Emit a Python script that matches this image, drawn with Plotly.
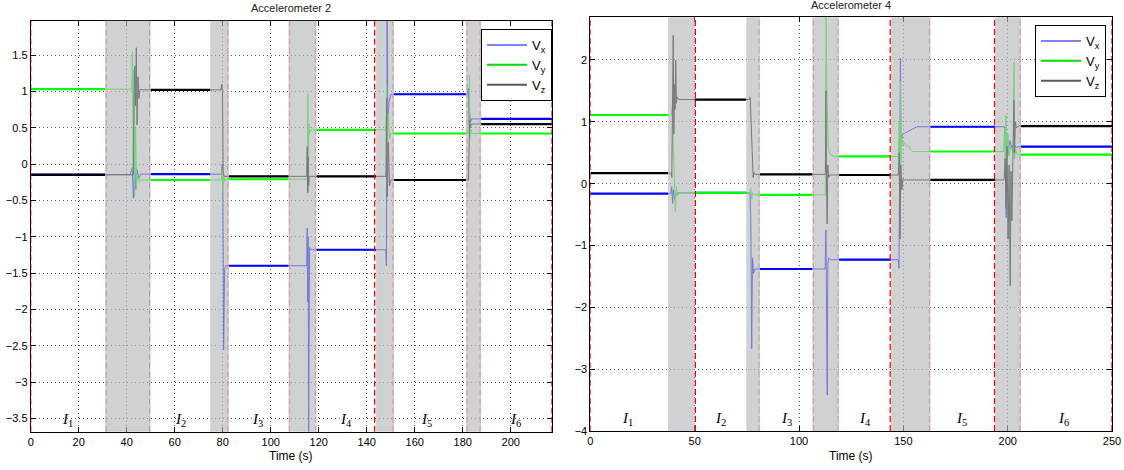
import plotly.graph_objects as go

# ---------------- Accelerometer 2 (left) ----------------
A2_SHADE_START = [31.0, 74.8, 107.4, 143.9, 181.3]
A2_SHADE_END = [50.0, 82.6, 119.1, 151.4, 187.7]
A2_XMAX = 217.2
# red dashed interval borders (those inside a shaded band are seen through it)
A2_DASH_X = [0.0, 31.5, 49.5, 82.1, 107.9, 118.6, 143.3, 150.9, 181.8, 187.2, 217.2]

# steady level of each series in intervals I1..I6
A2_VX_LEVEL = [-0.145, -0.14, -1.40, -1.18, 0.96, 0.62]
A2_VY_LEVEL = [1.03, -0.22, -0.21, 0.47, 0.42, 0.42]
A2_VZ_LEVEL = [-0.15, 1.02, -0.17, -0.17, -0.22, 0.55]

# transient samples inside each shaded switch period
A2_VX_T = [[41.5, 42.3, 42.8, 43.3, 43.8, 44.4, 45.0, 45.8],
           [79.5, 79.8, 80.1, 80.4, 80.8, 81.2],
           [115.0, 115.2, 115.4, 115.6, 115.8, 116.2, 116.8],
           [148.0, 148.2, 148.5, 148.8, 149.3, 150.1],
           [182.0, 182.3, 182.6, 182.9, 183.3, 183.7]]
A2_VX_V = [[-0.145, -0.05, -0.47, -0.02, -0.35, -0.08, -0.20, -0.14],
           [-0.14, 0.0, -0.5, -2.56, -1.45, -1.40],
           [-1.40, -0.88, -1.90, -1.00, -3.68, -1.15, -1.18],
           [-1.18, -1.40, 2.0, 0.60, 0.86, 0.96],
           [0.96, 1.04, 0.55, 0.70, 0.58, 0.62]]

A2_VY_T = [[42.1, 42.4, 42.7, 43.0, 43.3, 43.7, 44.1, 44.6, 45.2, 46.0],
           [79.5, 79.8, 80.1, 80.4, 80.8, 81.3],
           [115.2, 115.5, 115.7, 115.9, 116.2, 116.6],
           [148.0, 148.3, 148.6, 149.0, 149.5, 150.1],
           [182.5, 182.8, 183.0, 183.3, 183.7]]
A2_VY_V = [[1.03, 1.55, -0.10, 1.30, -0.45, 0.50, -0.30, -0.15, -0.25, -0.22],
           [-0.22, -0.07, -0.40, -0.15, -0.24, -0.21],
           [-0.21, 0.97, -0.38, 0.55, 0.42, 0.47],
           [0.47, 1.10, 0.05, 0.70, 0.35, 0.42],
           [0.42, 1.22, 0.35, 0.48, 0.42]]

A2_VZ_T = [[42.8, 43.1, 43.4, 43.7, 44.0, 44.3, 44.7, 45.1, 45.6, 46.5],
           [79.3, 79.6, 79.9, 80.2, 80.6],
           [115.0, 115.2, 115.4, 115.6, 115.8, 116.1],
           [148.0, 148.3, 148.6, 149.0, 149.5, 150.1],
           [182.4, 182.6, 182.9, 183.2, 183.6]]
A2_VZ_V = [[-0.15, 1.00, 1.35, 0.80, 1.60, 0.54, 1.20, 0.90, 1.03, 1.02],
           [1.02, 1.10, 1.00, -0.10, -0.17],
           [-0.17, 0.24, -0.40, 0.10, -0.30, -0.17],
           [-0.17, 0.90, -0.45, 0.30, -0.30, -0.22],
           [-0.22, 0.40, 0.60, 0.50, 0.55]]

A2_LABEL_X = [15.2, 62.4, 94.5, 131.2, 164.8, 201.8]
A2_LABEL_Y = -3.52

# ---------------- Accelerometer 4 (right) ----------------
A4_SHADE_START = [37.2, 74.7, 106.4, 144.0, 194.0]
A4_SHADE_END = [50.0, 81.3, 119.2, 163.0, 206.4]
A4_XMAX = 250.0
A4_DASH_X = [0.0, 50.3, 80.8, 106.9, 118.7, 143.7, 162.5, 193.7, 205.9, 250.0]

A4_VX_LEVEL = [-0.16, -0.15, -1.38, -1.23, 0.92, 0.60]
A4_VY_LEVEL = [1.11, -0.15, -0.18, 0.44, 0.52, 0.47]
A4_VZ_LEVEL = [0.17, 1.36, 0.15, 0.14, 0.06, 0.93]

A4_VX_T = [[38.5, 39.0, 39.4, 39.8, 40.3, 41.0],
           [76.5, 76.9, 77.3, 77.7, 78.2, 78.8],
           [112.5, 112.9, 113.2, 113.5, 113.8, 114.3, 115.0],
           [147.6, 147.9, 148.3, 148.6, 148.9, 149.5, 151.5, 154.0, 156.5],
           [198.5, 199.0, 199.3, 199.7, 200.2, 201.0, 202.0, 203.0, 204.0, 205.0]]
A4_VX_V = [[-0.16, -0.05, -0.32, -0.10, -0.25, -0.15],
           [-0.15, -0.60, -2.67, -1.20, -1.45, -1.38],
           [-1.38, -0.75, -1.60, -3.42, -1.30, -1.20, -1.23],
           [-1.23, -1.37, 0.50, 2.03, 0.60, 0.80, 0.83, 0.87, 0.92],
           [0.92, 0.60, -0.55, 0.75, 0.45, 0.70, 0.58, 0.65, 0.58, 0.60]]

A4_VY_T = [[38.8, 39.2, 39.5, 39.9, 40.3, 40.7, 41.2, 41.8, 42.4],
           [76.5, 76.9, 77.3, 77.7, 78.2, 78.8],
           [112.6, 113.0, 113.3, 113.6, 114.0, 114.6, 115.5, 117.0],
           [147.6, 148.0, 148.3, 148.6, 148.9, 149.2, 149.6, 150.5, 151.5, 152.5, 153.5, 154.5],
           [198.0, 198.5, 198.8, 199.2, 199.6, 200.1, 200.6, 201.5, 202.6, 203.0, 203.3, 203.8, 204.5]]
A4_VY_V = [[1.11, 1.24, 0.90, 0.20, -0.10, -0.45, -0.05, -0.20, -0.15],
           [-0.15, -0.08, -0.25, -0.15, -0.17, -0.18],
           [-0.18, 2.75, 1.50, 0.90, 0.60, 0.50, 0.46, 0.44],
           [0.44, 1.00, -0.30, 1.65, 0.30, 0.75, 0.62, 0.66, 0.60, 0.62, 0.55, 0.52],
           [0.52, 0.90, 0.20, 1.11, 0.30, 0.80, 0.45, 0.60, 0.50, 1.97, 0.40, 0.55, 0.47]]

A4_VZ_T = [[38.8, 39.0, 39.4, 39.7, 40.0, 40.3, 40.6, 40.9, 41.2, 41.6, 42.3],
           [76.3, 76.6, 76.9, 77.3, 77.7, 78.0, 78.4, 78.9],
           [112.6, 112.9, 113.2, 113.5, 113.8, 114.2, 114.8],
           [147.6, 148.0, 148.4, 148.8, 149.3, 149.8, 150.5],
           [198.3, 198.8, 199.2, 199.7, 200.2, 200.7, 201.2, 201.6, 202.0, 202.5, 203.0, 203.3, 203.7, 204.2, 205.0]]
A4_VZ_V = [[0.17, 0.10, 1.20, 2.40, 0.80, 1.60, 1.20, 2.00, 1.30, 1.40, 1.36],
           [1.36, 1.40, 1.10, 0.60, 0.25, 0.10, 0.18, 0.15],
           [0.15, 1.50, -0.10, -0.65, 0.30, 0.10, 0.14],
           [0.14, 0.50, -0.90, 0.30, -0.10, 0.08, 0.06],
           [0.06, 0.40, -0.40, 0.60, -0.90, 0.30, -1.65, 0.20, -0.60, 0.90, 1.35, 0.50, 1.00, 0.90, 0.93]]

A4_LABEL_X = [18.0, 62.5, 94.2, 131.8, 177.7, 226.9]
A4_LABEL_Y = -3.80

SERIES_NAMES = ["V<sub>x</sub>", "V<sub>y</sub>", "V<sub>z</sub>"]
SERIES_COLORS = ["#0000ff", "#00ff00", "#000000"]
LEGEND_COLORS = ["#7f7fff", "#00e000", "#5a5a5a"]

FONT = "Liberation Sans, Arial, sans-serif"

FIG_W, FIG_H = 1124, 470


def fx(p):  # page pixel x -> paper fraction
    return p / FIG_W


def fy(p):  # page pixel y -> paper fraction
    return 1 - p / FIG_H


fig = go.Figure()


def full_path(levels, trans_t, trans_v, xmax):
    xs, ys = [0.0], [levels[0]]
    for tt, vv in zip(trans_t, trans_v):
        xs += tt
        ys += vv
    xs.append(xmax)
    ys.append(levels[-1])
    return xs, ys


def steady_segments(levels, s_start, s_end, xmax):
    lo = [0.0] + list(s_end)
    hi = list(s_start) + [xmax]
    xs, ys = [], []
    for a, b, lv in zip(lo, hi, levels):
        xs += [a, b, None]
        ys += [lv, lv, None]
    return xs, ys


def add_panel(xa, ya, legend, levels, tts, vvs, s_start, s_end, xmax):
    for i in range(3):
        x, y = full_path(levels[i], tts[i], vvs[i], xmax)
        fig.add_trace(go.Scatter(x=x, y=y, mode="lines", xaxis=xa, yaxis=ya,
                                 line=dict(color=SERIES_COLORS[i], width=1),
                                 showlegend=False, hoverinfo="skip"))
    for i in range(3):
        x, y = steady_segments(levels[i], s_start, s_end, xmax)
        fig.add_trace(go.Scatter(x=x, y=y, mode="lines", xaxis=xa, yaxis=ya,
                                 line=dict(color=SERIES_COLORS[i], width=2.2),
                                 showlegend=False, hoverinfo="skip"))
    for i in range(3):
        fig.add_trace(go.Scatter(x=[None], y=[None], mode="lines", xaxis=xa, yaxis=ya,
                                 name=SERIES_NAMES[i], legend=legend,
                                 line=dict(color=LEGEND_COLORS[i], width=2)))


add_panel("x", "y", "legend",
          [A2_VX_LEVEL, A2_VY_LEVEL, A2_VZ_LEVEL],
          [A2_VX_T, A2_VY_T, A2_VZ_T], [A2_VX_V, A2_VY_V, A2_VZ_V],
          A2_SHADE_START, A2_SHADE_END, A2_XMAX)
add_panel("x2", "y2", "legend2",
          [A4_VX_LEVEL, A4_VY_LEVEL, A4_VZ_LEVEL],
          [A4_VX_T, A4_VY_T, A4_VZ_T], [A4_VX_V, A4_VY_V, A4_VZ_V],
          A4_SHADE_START, A4_SHADE_END, A4_XMAX)

shapes = []
for xref, yref, dash_x, s0, s1 in [("x", "y domain", A2_DASH_X, A2_SHADE_START, A2_SHADE_END),
                                   ("x2", "y2 domain", A4_DASH_X, A4_SHADE_START, A4_SHADE_END)]:
    for dx in dash_x:
        covered = any(a <= dx <= b for a, b in zip(s0, s1))
        shapes.append(dict(type="line", xref=xref, yref=yref, x0=dx, x1=dx, y0=0, y1=1,
                           line=dict(color="#ff5a5a" if covered else "#ff0000",
                                     width=1.0 if covered else 1.3, dash="6px,3px"),
                           layer="above"))
    for a, b in zip(s0, s1):
        shapes.append(dict(type="rect", xref=xref, yref=yref, x0=a, x1=b, y0=0, y1=1,
                           fillcolor="rgb(183,184,187)", opacity=0.65,
                           line=dict(width=0), layer="above"))

annotations = []
for xref, yref, lx, ly in [("x", "y", A2_LABEL_X, A2_LABEL_Y), ("x2", "y2", A4_LABEL_X, A4_LABEL_Y)]:
    for k, xv in enumerate(lx):
        annotations.append(dict(x=xv, y=ly, xref=xref, yref=yref, showarrow=False,
                                xanchor="center", yanchor="middle",
                                text="<i>I</i><sub>%d</sub>" % (k + 1),
                                font=dict(family="Liberation Serif, Times New Roman, serif",
                                          size=15, color="#000000")))

annotations += [
    dict(x=fx(291.4), y=fy(8), xref="paper", yref="paper", showarrow=False,
         xanchor="center", yanchor="middle",
         text="Accelerometer 2", font=dict(family=FONT, size=11, color="#222222")),
    dict(x=fx(851.2), y=fy(5.5), xref="paper", yref="paper", showarrow=False,
         xanchor="center", yanchor="middle",
         text="Accelerometer 4", font=dict(family=FONT, size=11, color="#222222")),
    dict(x=fx(291.4), y=fy(456), xref="paper", yref="paper", showarrow=False,
         xanchor="center", yanchor="middle",
         text="Time (s)", font=dict(family=FONT, size=12, color="#000000")),
    dict(x=fx(851.2), y=fy(456), xref="paper", yref="paper", showarrow=False,
         xanchor="center", yanchor="middle",
         text="Time (s)", font=dict(family=FONT, size=12, color="#000000")),
]

axis_common = dict(showline=True, linecolor="#000000", linewidth=1, mirror="ticks",
                   ticks="inside", ticklen=5, tickcolor="#000000",
                   showgrid=True, gridcolor="#555555", griddash="1px,3px", gridwidth=1,
                   zeroline=False, tickfont=dict(family=FONT, size=11, color="#000000"),
                   automargin=False)

legend_common = dict(bgcolor="#ffffff", bordercolor="#000000", borderwidth=1,
                     font=dict(family=FONT, size=13, color="#000000"),
                     xanchor="right", yanchor="top", tracegroupgap=0, itemwidth=40)

fig.update_layout(
    width=FIG_W, height=FIG_H,
    margin=dict(l=0, r=0, t=0, b=0),
    paper_bgcolor="#ffffff", plot_bgcolor="#ffffff",
    xaxis=dict(domain=[fx(30.7), fx(552)], range=[0, A2_XMAX], tick0=0, dtick=20,
               anchor="y", ticklabeloverflow="allow", **axis_common),
    yaxis=dict(domain=[fy(431.7), fy(20.7)], range=[-3.684, 1.972], tick0=0, dtick=0.5,
               anchor="x", **axis_common),
    xaxis2=dict(domain=[fx(590.4), fx(1112)], range=[0, A4_XMAX], tick0=0, dtick=50,
                anchor="y2", ticklabeloverflow="allow", **axis_common),
    yaxis2=dict(domain=[fy(431), fy(17.3)], range=[-4, 2.69], tick0=0, dtick=1,
                anchor="x2", **axis_common),
    legend=dict(x=fx(552), y=fy(29), **legend_common),
    legend2=dict(x=fx(1106), y=fy(25), **legend_common),
    shapes=shapes,
    annotations=annotations,
    showlegend=True,
)

# the page's default 8px body margin would push the figure out of the 1124x470 window
fig.write_html("out.html",
               config={"displayModeBar": False},
               post_script="document.body.style.margin='0px';document.body.style.overflow='hidden';")
